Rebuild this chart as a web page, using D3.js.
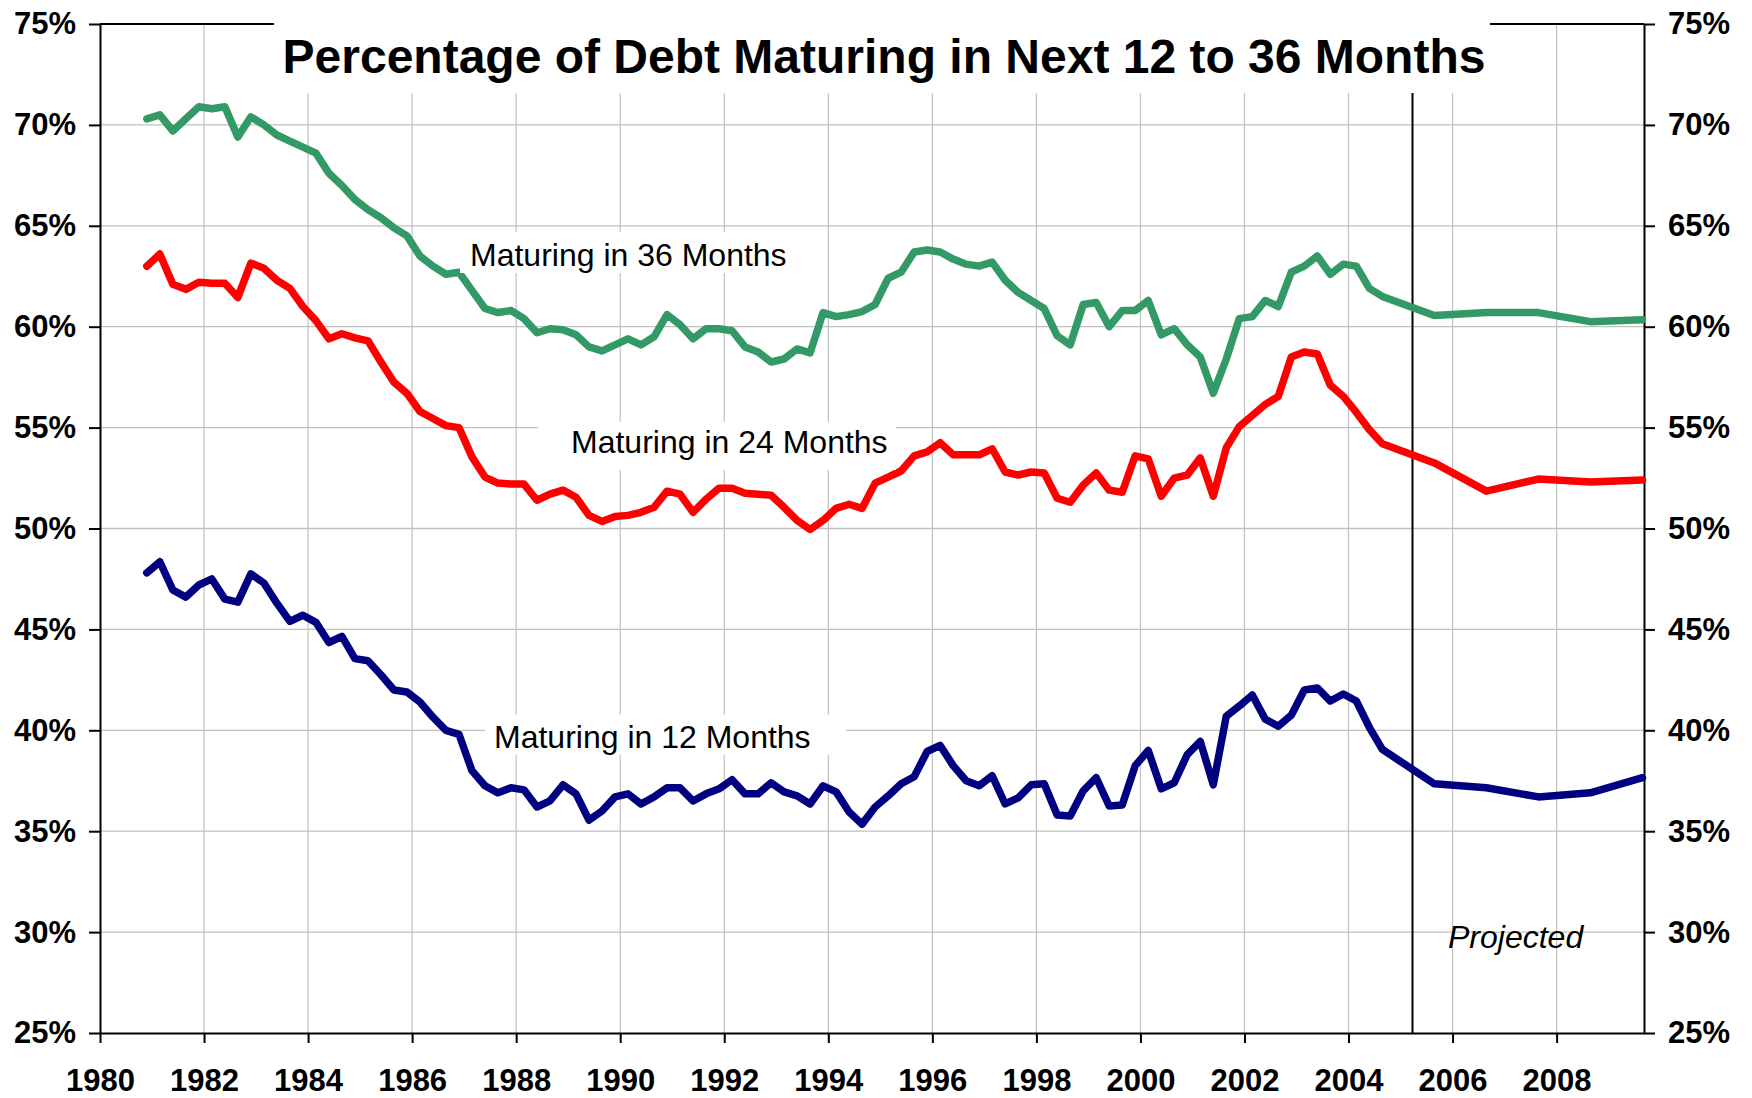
<!DOCTYPE html>
<head>
	<meta charset="utf-8">
	<script src="https://d3js.org/d3.v7.min.js"></script>
	<style>
		body { margin: 0; background: #fff; }
		text { font-family: "Liberation Sans", Arial, sans-serif; }
	</style>
</head>
<body>
	<div id="chart"></div>
	<script>

	var width = 1752,
	height = 1098;

	// quarterly observations, Q4 1980 .. Q3 2004
	var quarters = d3.range(96).map(i => 1980.9 + i * 0.25);
	// projected, one point a year
	var projYears = [2005.65, 2006.65, 2007.65, 2008.65, 2009.65];

	var mat36 = [70.3, 70.5, 69.7, 70.3, 70.9, 70.8, 70.9, 69.4, 70.4, 70.0, 69.5, 69.2,
		68.9, 68.6, 67.6, 67.0, 66.3, 65.8, 65.4, 64.9, 64.5, 63.5, 63.0, 62.6,
		62.7, 61.8, 60.9, 60.7, 60.8, 60.4, 59.7, 59.9, 59.85, 59.6, 59.0, 58.8,
		59.1, 59.4, 59.1, 59.5, 60.6, 60.1, 59.4, 59.9, 59.9, 59.8, 59.0, 58.75,
		58.25, 58.4, 58.9, 58.7, 60.7, 60.5, 60.6, 60.75, 61.1, 62.4, 62.7, 63.7,
		63.8, 63.7, 63.35, 63.1, 63.0, 63.2, 62.3, 61.7, 61.3, 60.9, 59.55, 59.1,
		61.1, 61.2, 60.0, 60.8, 60.8, 61.3, 59.6, 59.9, 59.1, 58.5, 56.7, 58.4,
		60.4, 60.5, 61.3, 61.0, 62.7, 63.0, 63.5, 62.6, 63.1, 63.0, 61.9, 61.5];
	var proj36 = [60.55, 60.7, 60.7, 60.25, 60.35];

	var mat24 = [63.0, 63.6, 62.1, 61.85, 62.2, 62.15, 62.15, 61.45, 63.15, 62.9, 62.3, 61.9,
		61.0, 60.3, 59.4, 59.65, 59.45, 59.3, 58.25, 57.25, 56.7, 55.8, 55.45, 55.1,
		55.0, 53.55, 52.55, 52.25, 52.2, 52.2, 51.4, 51.7, 51.9, 51.55, 50.65, 50.35,
		50.6, 50.65, 50.8, 51.05, 51.85, 51.7, 50.8, 51.45, 52.0, 52.0, 51.75, 51.7,
		51.65, 51.05, 50.4, 49.95, 50.4, 51.0, 51.2, 51.0, 52.25, 52.55, 52.85, 53.6,
		53.8, 54.25, 53.65, 53.65, 53.65, 53.95, 52.8, 52.65, 52.8, 52.75, 51.5, 51.3,
		52.15, 52.75, 51.9, 51.8, 53.6, 53.45, 51.6, 52.5, 52.65, 53.5, 51.6, 54.0,
		55.05, 55.6, 56.15, 56.55, 58.5, 58.75, 58.65, 57.1, 56.55, 55.75, 54.9, 54.2];
	var proj24 = [53.25, 51.85, 52.45, 52.3, 52.4];

	var mat12 = [47.8, 48.35, 46.95, 46.6, 47.2, 47.5, 46.5, 46.35, 47.75, 47.3, 46.3, 45.4,
		45.7, 45.35, 44.35, 44.65, 43.55, 43.45, 42.75, 42.0, 41.9, 41.4, 40.65, 40.0,
		39.8, 38.0, 37.25, 36.9, 37.15, 37.05, 36.2, 36.5, 37.3, 36.85, 35.55, 36.0,
		36.7, 36.85, 36.35, 36.7, 37.15, 37.15, 36.5, 36.85, 37.1, 37.55, 36.85, 36.85,
		37.4, 36.95, 36.75, 36.35, 37.25, 36.95, 35.95, 35.35, 36.2, 36.75, 37.35, 37.7,
		38.95, 39.25, 38.25, 37.5, 37.25, 37.75, 36.35, 36.65, 37.3, 37.35, 35.8, 35.75,
		37.0, 37.65, 36.25, 36.3, 38.25, 39.0, 37.1, 37.4, 38.8, 39.45, 37.3, 40.7,
		41.2, 41.75, 40.55, 40.2, 40.75, 42.0, 42.1, 41.45, 41.8, 41.45, 40.15, 39.05];
	var proj12 = [37.35, 37.15, 36.7, 36.9, 37.65];

	var yTicks = [25, 30, 35, 40, 45, 50, 55, 60, 65, 70, 75];
	var xTicks = d3.range(1980, 2009, 2);
	var projectedFrom = 2005.23;

	var svg = d3.select("#chart").append("svg")
	  .attr("width", width)
	  .attr("height", height)
	  .style("background", "#fff");

	var pLeft = 100, pRight = 1644, pTop = 24, pBottom = 1033;

	var x = d3.scaleLinear().domain([1980, 2009.68]).range([pLeft, pRight]);
	var y = d3.scaleLinear().domain([25, 75]).range([pBottom, pTop]);

	// grid
	svg.append("g")
		.selectAll("line")
		.data(yTicks.slice(1, -1))
		.join("line")
		  .attr("x1", pLeft).attr("x2", pRight)
		  .attr("y1", d => y(d)).attr("y2", d => y(d))
		  .attr("stroke", "#c0c0c0").attr("stroke-width", 1.3);

	svg.append("g")
		.selectAll("line")
		.data(xTicks.slice(1))
		.join("line")
		  .attr("x1", d => x(d)).attr("x2", d => x(d))
		  .attr("y1", pTop).attr("y2", pBottom)
		  .attr("stroke", "#c0c0c0").attr("stroke-width", 1.2);

	// plot border (top edge)
	svg.append("line")
		.attr("x1", pLeft).attr("x2", pRight)
		.attr("y1", pTop).attr("y2", pTop)
		.attr("stroke", "black").attr("stroke-width", 2);

	var pct = d => d + "%";
	var yLeft = svg.append("g")
		.attr("transform", `translate(${pLeft},0)`)
		.call(d3.axisLeft(y).tickValues(yTicks).tickSize(11).tickSizeOuter(0).tickPadding(13).tickFormat(pct));
	var yRight = svg.append("g")
		.attr("transform", `translate(${pRight},0)`)
		.call(d3.axisRight(y).tickValues(yTicks).tickSize(11).tickSizeOuter(0).tickPadding(13).tickFormat(pct));
	var xAxis = svg.append("g")
		.attr("transform", `translate(0,${pBottom})`)
		.call(d3.axisBottom(x).tickValues(xTicks).tickSize(10).tickSizeOuter(0).tickPadding(26).tickFormat(d3.format("d")));

	[yLeft, yRight, xAxis].forEach(function(g) {
		g.select(".domain").attr("stroke-width", 2);
		g.selectAll(".tick line").attr("stroke-width", 2);
		g.selectAll("text")
		  .attr("font-size", 31)
		  .attr("font-weight", "bold")
		  .attr("fill", "black")
		  .style("font-family", '"Liberation Sans", Arial, sans-serif');
	});

	// projected marker
	svg.append("line")
		.attr("x1", x(projectedFrom)).attr("x2", x(projectedFrom))
		.attr("y1", 93).attr("y2", pBottom)
		.attr("stroke", "black").attr("stroke-width", 2);

	// lines
	var allYears = quarters.concat(projYears);
	var series = [
		{vals: mat36.concat(proj36), color: "#339966"},
		{vals: mat24.concat(proj24), color: "#ff0000"},
		{vals: mat12.concat(proj12), color: "#000080"}
	];

	var line = d3.line()
		.x((d, i) => x(allYears[i]))
		.y(d => y(d));

	svg.append("g")
		.selectAll("path")
		.data(series)
		.join("path")
		  .attr("d", d => line(d.vals))
		  .attr("fill", "none")
		  .attr("stroke", d => d.color)
		  .attr("stroke-width", 7.5)
		  .attr("stroke-linejoin", "round")
		  .attr("stroke-linecap", "round");

	// labels with white boxes
	var labels = [
		{text: "Maturing in 36 Months", box: [460, 232, 345, 41], tx: 470, ty: 266},
		{text: "Maturing in 24 Months", box: [538, 422, 358, 48], tx: 571, ty: 453},
		{text: "Maturing in 12 Months", box: [485, 715, 361, 40], tx: 494, ty: 748}
	];
	labels.forEach(function(l) {
		svg.append("rect")
			.attr("x", l.box[0]).attr("y", l.box[1])
			.attr("width", l.box[2]).attr("height", l.box[3])
			.attr("fill", "white");
		svg.append("text")
			.attr("x", l.tx).attr("y", l.ty)
			.attr("font-size", 32)
			.text(l.text);
	});

	svg.append("text")
		.attr("x", 1448).attr("y", 948)
		.attr("font-size", 32)
		.attr("font-style", "italic")
		.text("Projected");

	// title, on a white box that cuts the top border
	svg.append("rect")
		.attr("x", 274).attr("y", 0)
		.attr("width", 1490 - 274).attr("height", 93)
		.attr("fill", "white");
	svg.append("text")
		.attr("x", 884).attr("y", 73)
		.attr("text-anchor", "middle")
		.attr("font-size", 48)
		.attr("font-weight", "bold")
		.text("Percentage of Debt Maturing in Next 12 to 36 Months");

</script>
</body>
</html>
